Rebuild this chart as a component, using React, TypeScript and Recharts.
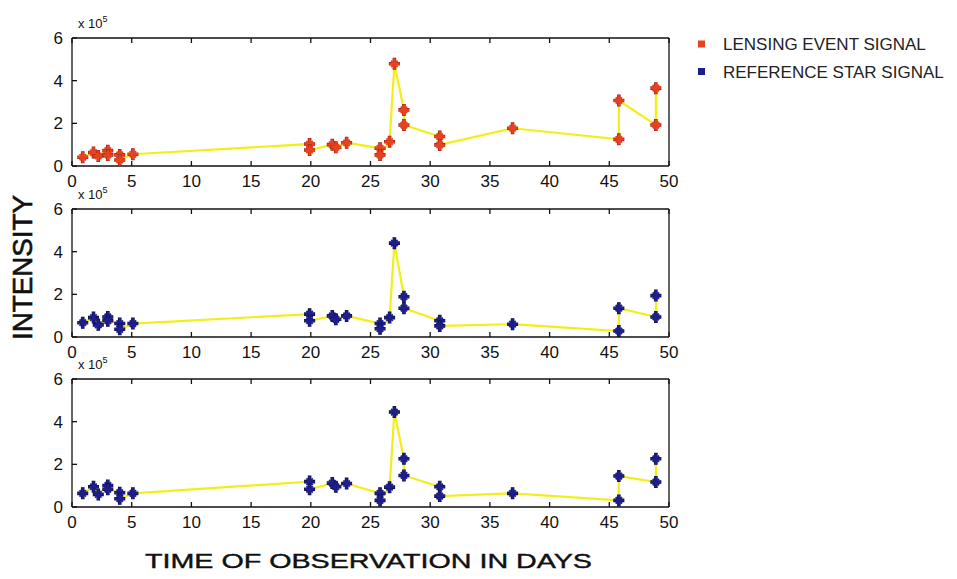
import React from "react";
import { LineChart, Line, XAxis, YAxis } from "recharts";

const days = [0.9, 1.8, 2.2, 3.0, 3.0, 4.0, 4.0, 5.1, 19.9, 19.9, 21.8, 22.1, 23.0, 25.8, 25.8, 26.6, 27.0, 27.8, 27.8, 30.8, 30.8, 36.9, 45.8, 45.8, 48.9, 48.9];
const lensingSignal = [0.41, 0.63, 0.47, 0.72, 0.52, 0.52, 0.28, 0.55, 1.03, 0.75, 1.0, 0.88, 1.09, 0.83, 0.52, 1.14, 4.79, 2.63, 1.92, 1.38, 0.99, 1.77, 1.25, 3.07, 1.92, 3.65];
const referenceStarA = [0.67, 0.91, 0.57, 0.94, 0.76, 0.63, 0.36, 0.63, 1.07, 0.76, 0.99, 0.83, 0.99, 0.63, 0.39, 0.91, 4.4, 1.89, 1.35, 0.76, 0.52, 0.6, 0.28, 1.35, 0.94, 1.94];
const referenceStarB = [0.64, 0.95, 0.59, 1.01, 0.83, 0.67, 0.39, 0.64, 1.19, 0.83, 1.12, 0.95, 1.1, 0.64, 0.31, 0.93, 4.45, 2.26, 1.48, 0.95, 0.51, 0.64, 0.31, 1.45, 1.17, 2.26];

const xTicks = [0, 5, 10, 15, 20, 25, 30, 35, 40, 45, 50];
const yTicks = [0, 2, 4, 6];
const seriesNames = ["LENSING EVENT SIGNAL", "REFERENCE STAR SIGNAL"];
const xTitle = "TIME OF OBSERVATION IN DAYS";
const yTitle = "INTENSITY";

const RED = "#e8421e";
const RED_DARK = "#9a1f10";
const BLUE = "#1e1e8c";
const BLUE_DARK = "#0c0c40";
const YELLOW = "#f4ee18";
const FONT = "'Liberation Sans', Arial, sans-serif";

const makeStar = (color: string, edge: string) => (props: any) => {
  const { cx, cy, index } = props;
  if (cx == null || cy == null) return <g key={`s${index}`} />;
  return (
    <g key={`s${index}`}>
      <path d={`M${cx - 5.5},${cy}L${cx + 5.5},${cy}M${cx},${cy - 6}L${cx},${cy + 6}`} stroke={edge} strokeWidth={3.6} />
      <path d={`M${cx - 5},${cy}L${cx + 5},${cy}M${cx},${cy - 5.5}L${cx},${cy + 5.5}`} stroke={color} strokeWidth={2.4} />
      <path d={`M${cx - 3.2},${cy - 3.2}L${cx + 3.2},${cy + 3.2}M${cx - 3.2},${cy + 3.2}L${cx + 3.2},${cy - 3.2}`} stroke={color} strokeWidth={1.8} />
    </g>
  );
};

const ScaleLabel = (props: any) => {
  const vb = props.viewBox || {};
  const x = (vb.x ?? 0) + (vb.width ?? 0) + 6;
  const y = (vb.y ?? 0) - 10;
  return (
    <text x={x} y={y} fontSize={13} fontFamily={FONT} fill="#111">
      x 10
      <tspan dy={-6} fontSize={9}>5</tspan>
    </text>
  );
};

const Panel = ({ values, name, color, edge, top }: any) => {
  const rows = days.map((d, i) => ({ day: d, v: values[i] }));
  const tickStyle = { fontSize: 17, fontFamily: FONT, fill: "#111" };
  return (
    <div style={{ position: "absolute", left: 0, top }}>
      <LineChart width={700} height={196} data={rows} margin={{ top: 37, right: 30, bottom: 0, left: 32 }}>
        <XAxis
          dataKey="day"
          type="number"
          domain={[0, 50]}
          ticks={xTicks}
          interval={0}
          height={30}
          tickSize={-5}
          tickMargin={14}
          stroke="#111"
          strokeWidth={1.3}
          tick={tickStyle}
        />
        <XAxis
          xAxisId="top"
          orientation="top"
          dataKey="day"
          type="number"
          domain={[0, 50]}
          ticks={xTicks}
          interval={0}
          height={1}
          tickSize={-5}
          stroke="#111"
          strokeWidth={1.3}
          tick={() => <g />}
        />
        <YAxis
          type="number"
          domain={[0, 6]}
          ticks={yTicks}
          interval={0}
          width={40}
          tickSize={-5}
          tickMargin={14}
          stroke="#111"
          strokeWidth={1.3}
          tick={tickStyle}
          label={<ScaleLabel />}
        />
        <YAxis
          yAxisId="r"
          orientation="right"
          type="number"
          domain={[0, 6]}
          ticks={yTicks}
          interval={0}
          width={1}
          tickSize={-5}
          stroke="#111"
          strokeWidth={1.3}
          tick={() => <g />}
        />
        <Line
          type="linear"
          dataKey="v"
          name={name}
          stroke={YELLOW}
          strokeWidth={2.2}
          dot={makeStar(color, edge)}
          activeDot={false}
          isAnimationActive={false}
        />
      </LineChart>
    </div>
  );
};

export default function App() {
  return (
    <div style={{ position: "absolute", left: 0, top: 0, width: 957, height: 579, background: "#fff", fontFamily: FONT, overflow: "hidden" }}>
      <Panel values={lensingSignal} name={seriesNames[0]} color={RED} edge={RED_DARK} top={0} />
      <Panel values={referenceStarA} name={seriesNames[1]} color={BLUE} edge={BLUE_DARK} top={171} />
      <Panel values={referenceStarB} name={seriesNames[1]} color={BLUE} edge={BLUE_DARK} top={341} />
      <svg width={957} height={579} style={{ position: "absolute", left: 0, top: 0, pointerEvents: "none" }}>
        <text
          x={0}
          y={0}
          transform="translate(32,267.5) rotate(-90)"
          textAnchor="middle"
          fontSize={27}
          fontFamily={FONT}
          fill="#111"
          stroke="#111"
          strokeWidth={0.6}
          textLength={145}
          lengthAdjust="spacingAndGlyphs"
        >
          {yTitle}
        </text>
        <text x={145} y={568} fontSize={20} fontFamily={FONT} fill="#111" stroke="#111" strokeWidth={0.4} textLength={447} lengthAdjust="spacingAndGlyphs">
          {xTitle}
        </text>
        <rect x={698} y={40.5} width={7} height={7} fill={RED} />
        <text x={723} y={50} fontSize={17} fontFamily={FONT} fill="#222">{seriesNames[0]}</text>
        <rect x={698} y={68} width={7} height={7} fill={BLUE} />
        <text x={723} y={78} fontSize={17} fontFamily={FONT} fill="#222">{seriesNames[1]}</text>
      </svg>
    </div>
  );
}
